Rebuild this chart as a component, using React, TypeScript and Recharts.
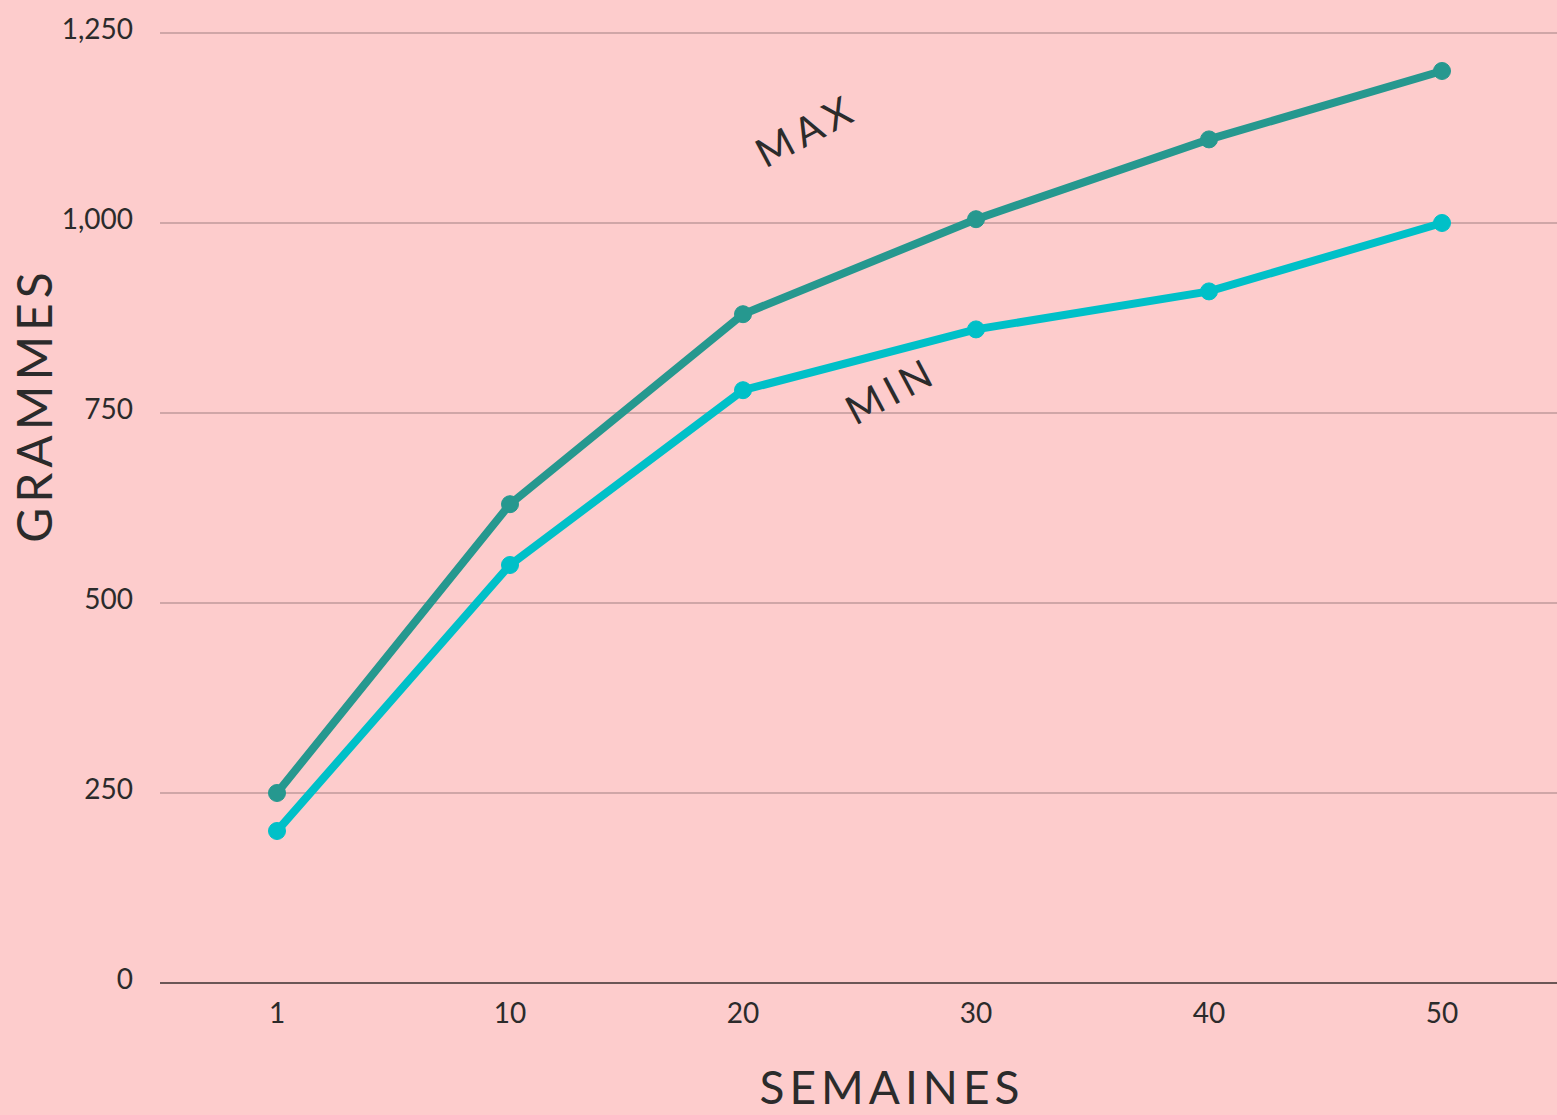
import { LineChart, Line, XAxis, YAxis, CartesianGrid, Customized } from 'recharts';

const weeks = ['1', '10', '20', '30', '40', '50'];
const maxGrams = [250, 630, 880, 1005, 1110, 1200];
const minGrams = [200, 550, 780, 860, 910, 1000];
const yTicks = [0, 250, 500, 750, 1000, 1250];

const chartData = weeks.map((week, i) => ({
  week,
  max: maxGrams[i],
  min: minGrams[i],
}));

const FONT = 'Lato, "Open Sans", sans-serif';
const INK = '#2b2b2b';

// free text drawn on top of the chart: axis titles and the series annotations
function Annotations() {
  return (
    <g fontFamily={FONT} fill={INK}>
      <text
        x={892}
        y={1104}
        textAnchor="middle"
        fontSize={46}
        letterSpacing={5}
      >
        SEMAINES
      </text>
      <text
        x={52}
        y={405}
        textAnchor="middle"
        fontSize={48}
        letterSpacing={5}
        transform="rotate(-90 52 405)"
      >
        GRAMMES
      </text>
      <text
        x={806}
        y={145}
        textAnchor="middle"
        fontSize={40}
        letterSpacing={6}
        transform="rotate(-28 806 130)"
      >
        MAX
      </text>
      <text
        x={891}
        y={405}
        textAnchor="middle"
        fontSize={40}
        letterSpacing={6}
        transform="rotate(-28 891 390)"
      >
        MIN
      </text>
    </g>
  );
}

export default function App() {
  return (
    <div style={{ width: 1557, height: 1115, background: '#fdcccc' }}>
      <style>{`body { margin: 0; background: #fdcccc; }`}</style>
      <LineChart
        width={1557}
        height={1115}
        data={chartData}
        margin={{ top: 33, right: 0, left: 0, bottom: 0 }}
      >
        <CartesianGrid vertical={false} stroke="#bf9a9b" strokeWidth={1.5} />
        <XAxis
          dataKey="week"
          height={132}
          padding={{ left: 117, right: 115 }}
          tickLine={false}
          tickSize={0}
          tickMargin={20}
          axisLine={{ stroke: '#6b5656', strokeWidth: 2 }}
          tick={{ fill: INK, fontSize: 28, fontFamily: FONT }}
        />
        <YAxis
          width={160}
          domain={[0, 1250]}
          ticks={yTicks}
          tickFormatter={(v: number) => v.toLocaleString('en-US')}
          axisLine={false}
          tickLine={false}
          tickSize={0}
          tickMargin={27}
          tick={{ fill: INK, fontSize: 28, fontFamily: FONT, dy: -4 }}
        />
        <Line
          dataKey="max"
          stroke="#26988f"
          strokeWidth={8}
          dot={{ r: 8.5, fill: '#26988f', stroke: '#26988f', strokeWidth: 1 }}
          activeDot={false}
          isAnimationActive={false}
        />
        <Line
          dataKey="min"
          stroke="#00c0c8"
          strokeWidth={8}
          dot={{ r: 8.5, fill: '#00c0c8', stroke: '#00c0c8', strokeWidth: 1 }}
          activeDot={false}
          isAnimationActive={false}
        />
        <Customized component={Annotations} />
      </LineChart>
    </div>
  );
}
